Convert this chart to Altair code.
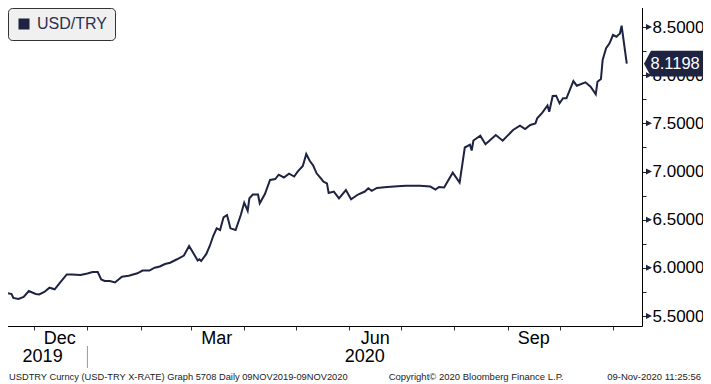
import altair as alt
import pandas as pd

# ---------------- data ----------------
series_name = "USD/TRY"

dates = [
    "2019-11-11", "2019-11-13", "2019-11-15", "2019-11-18", "2019-11-19", "2019-11-22", "2019-11-25", "2019-11-28",
    "2019-12-02", "2019-12-04", "2019-12-07", "2019-12-10", "2019-12-13", "2019-12-16", "2019-12-20", "2019-12-23", "2019-12-28",
    "2020-01-01", "2020-01-04", "2020-01-07", "2020-01-09", "2020-01-11", "2020-01-14", "2020-01-17", "2020-01-21", "2020-01-25", "2020-01-30",
    "2020-02-02", "2020-02-06", "2020-02-09", "2020-02-12", "2020-02-15", "2020-02-18", "2020-02-22", "2020-02-26", "2020-02-29",
    "2020-03-02", "2020-03-05", "2020-03-06", "2020-03-07", "2020-03-10", "2020-03-12", "2020-03-14", "2020-03-16", "2020-03-18",
    "2020-03-20", "2020-03-22", "2020-03-24", "2020-03-27", "2020-03-30",
    "2020-04-01", "2020-04-03", "2020-04-04", "2020-04-06", "2020-04-09", "2020-04-10", "2020-04-13", "2020-04-16", "2020-04-19",
    "2020-04-21", "2020-04-24", "2020-04-27", "2020-04-30",
    "2020-05-02", "2020-05-05", "2020-05-07", "2020-05-09", "2020-05-11", "2020-05-13", "2020-05-15", "2020-05-17", "2020-05-19",
    "2020-05-20", "2020-05-23", "2020-05-26", "2020-05-30",
    "2020-06-02", "2020-06-06", "2020-06-10", "2020-06-12", "2020-06-14", "2020-06-17", "2020-06-23", "2020-06-29",
    "2020-07-04", "2020-07-12", "2020-07-18", "2020-07-21", "2020-07-23", "2020-07-26", "2020-07-31",
    "2020-08-04", "2020-08-07", "2020-08-10", "2020-08-11", "2020-08-12", "2020-08-16", "2020-08-19", "2020-08-25", "2020-08-29",
    "2020-09-04", "2020-09-08", "2020-09-11", "2020-09-14", "2020-09-17", "2020-09-18", "2020-09-21", "2020-09-24", "2020-09-25",
    "2020-09-27", "2020-09-29",
    "2020-10-01", "2020-10-03", "2020-10-05", "2020-10-09", "2020-10-11", "2020-10-16", "2020-10-19", "2020-10-22", "2020-10-23",
    "2020-10-25", "2020-10-26", "2020-10-28", "2020-10-30",
    "2020-11-01", "2020-11-03", "2020-11-04", "2020-11-05", "2020-11-06", "2020-11-09",
]

values = [
    5.765, 5.739, 5.739, 5.728, 5.687, 5.676, 5.697, 5.759,
    5.728, 5.723, 5.749, 5.794, 5.777, 5.843, 5.931, 5.931, 5.926,
    5.941, 5.957, 5.957, 5.879, 5.863, 5.863, 5.848, 5.908, 5.918, 5.943,
    5.972, 5.972, 6.001, 6.014, 6.040, 6.053, 6.089, 6.128, 6.227,
    6.167, 6.076, 6.089, 6.071, 6.144, 6.227, 6.330, 6.410, 6.393, 6.524, 6.548, 6.410, 6.393, 6.548,
    6.676, 6.593, 6.722, 6.761, 6.761, 6.670, 6.766, 6.912, 6.922, 6.967, 6.938, 6.977, 6.948,
    6.998, 7.057, 7.182, 7.112, 7.062, 6.981, 6.938, 6.894, 6.877, 6.777, 6.792, 6.722, 6.808,
    6.711, 6.761, 6.792, 6.826, 6.800, 6.829, 6.839, 6.846,
    6.853, 6.853, 6.844, 6.813, 6.839, 6.834, 6.988,
    6.884, 7.249, 7.278, 7.218, 7.322, 7.371, 7.283, 7.379, 7.320,
    7.431, 7.475, 7.441, 7.483, 7.500, 7.552, 7.612, 7.685, 7.621, 7.784, 7.787,
    7.708, 7.760, 7.760, 7.939, 7.891, 7.926, 7.880, 7.801, 7.932, 7.960, 8.157, 8.279, 8.331,
    8.417, 8.399, 8.417, 8.430, 8.513, 8.1198,
]

y_tick_values = [5.5, 5.75, 6.0, 6.25, 6.5, 6.75, 7.0, 7.25, 7.5, 7.75, 8.0, 8.25, 8.5, 8.75]
y_major_values = [5.5, 6.0, 6.5, 7.0, 7.5, 8.0, 8.5]

month_label_dates = ["2019-12-16", "2020-03-16", "2020-06-16", "2020-09-16"]
month_labels = ["Dec", "Mar", "Jun", "Sep"]
year_label_dates = ["2019-12-06", "2020-06-10"]
year_labels = ["2019", "2020"]
year_break_dates = ["2020-01-01"]

footer_left = "USDTRY Curncy (USD-TRY X-RATE) Graph 5708  Daily 09NOV2019-09NOV2020"
footer_mid = "Copyright\u00a9 2020 Bloomberg Finance L.P."
footer_right = "09-Nov-2020 11:25:56"

# ---------------- styling ----------------
NAVY = "#1d2340"
FONT = "Liberation Sans"

df = pd.DataFrame({"date": dates, "value": values, "series": series_name})
last_df = df.tail(1)
major_df = pd.DataFrame({"value": y_major_values})
month_df = pd.DataFrame({"date": month_label_dates, "label": month_labels})
year_df = pd.DataFrame({"date": year_label_dates, "label": year_labels})
break_df = pd.DataFrame({"date": year_break_dates})

month_ticks = [alt.DateTime(year=2019, month=12, date=1, utc=True)] + [
    alt.DateTime(year=2020, month=m, date=1, utc=True) for m in range(1, 12)
]

x_scale = alt.Scale(domain=[alt.DateTime(year=2019, month=11, date=11, hours=6, minutes=30, utc=True),
                            alt.DateTime(year=2020, month=11, date=17, hours=20, utc=True)])
y_scale = alt.Scale(domain=[5.3962, 8.7803], nice=False, zero=False)

x_enc = alt.X("date:T", scale=x_scale,
              axis=alt.Axis(values=month_ticks, labels=False, ticks=True, tickSize=4,
                            tickColor="#333", domainColor="#000", domainWidth=1,
                            grid=False, title=None))
y_enc = alt.Y("value:Q", scale=y_scale,
              axis=alt.Axis(orient="right", values=y_tick_values, tickSize=4, tickColor="#222",
                            domainColor="#000", grid=False, title=None, labelPadding=6,
                            labelFontSize=17, labelFont=FONT, labelColor="#000",
                            labelOverlap=False, labelFlush=False, labelBaseline="middle",
                            labelExpr="datum.value % 0.5 == 0 ? format(datum.value, '.4f') : ''"))

line = alt.Chart(df).mark_line(strokeWidth=2, interpolate="linear").encode(
    x=x_enc,
    y=y_enc,
    color=alt.Color("series:N", scale=alt.Scale(range=[NAVY]),
                    legend=alt.Legend(title=None, orient="none", legendX=8, legendY=8,
                                      fillColor="#f0f0f0", strokeColor="#333", cornerRadius=4,
                                      padding=8, symbolType="square", symbolSize=121,
                                      symbolFillColor=NAVY, symbolStrokeWidth=0,
                                      labelFontSize=16, labelFont=FONT, labelColor="#2b3050",
                                      labelOffset=5)),
)

tri = alt.Chart(major_df).mark_point(shape="M -1 -1 L 1 0 L -1 1 Z", filled=True, size=36,
                                     color=NAVY, opacity=1).encode(
    x=alt.value(649), y=y_enc)

tag = alt.Chart(last_df).mark_point(
    shape="M -1 0 L -0.763 -0.44 L 1 -0.44 L 1 0.44 L -0.763 0.44 Z",
    filled=True, size=3481, color=NAVY, opacity=1).encode(
    x=alt.value(673.5), y=y_enc)

tag_text = alt.Chart(last_df).mark_text(align="left", baseline="middle", fontSize=16.5, font=FONT,
                                        color="white").encode(
    x=alt.value(650.5), y=y_enc, text=alt.Text("value:Q", format=".4f"))

months = alt.Chart(month_df).mark_text(align="center", baseline="middle", fontSize=18, font=FONT,
                                       color="#000").encode(
    x=x_enc, y=alt.value(339), text="label:N")

years = alt.Chart(year_df).mark_text(align="center", baseline="middle", fontSize=18, font=FONT,
                                     color="#000").encode(
    x=x_enc, y=alt.value(357), text="label:N")

brk = alt.Chart(break_df).mark_rule(color="#999", strokeWidth=1).encode(
    x=x_enc, y=alt.value(346), y2=alt.value(368))

one = alt.Data(values=[{}])
f1 = alt.Chart(one).mark_text(align="left", baseline="middle", fontSize=9.3, font=FONT,
                              color="#222").encode(x=alt.value(9), y=alt.value(377),
                                                   text=alt.value(footer_left))
f2 = alt.Chart(one).mark_text(align="center", baseline="middle", fontSize=9.5, font=FONT,
                              color="#222").encode(x=alt.value(476), y=alt.value(377),
                                                   text=alt.value(footer_mid))
f3 = alt.Chart(one).mark_text(align="right", baseline="middle", fontSize=9.5, font=FONT,
                              color="#222").encode(x=alt.value(701), y=alt.value(377),
                                                   text=alt.value(footer_right))

chart = alt.layer(line, tri, tag, tag_text, months, years, brk, f1, f2, f3).properties(
    width=642, height=326,
    autosize=alt.AutoSizeParams(type="none"),
    padding={"left": -8, "top": -8, "right": 61, "bottom": 58},
    background="white",
).configure_view(strokeWidth=0)

chart.save("out.html", embed_options={"renderer": "svg", "actions": False})
